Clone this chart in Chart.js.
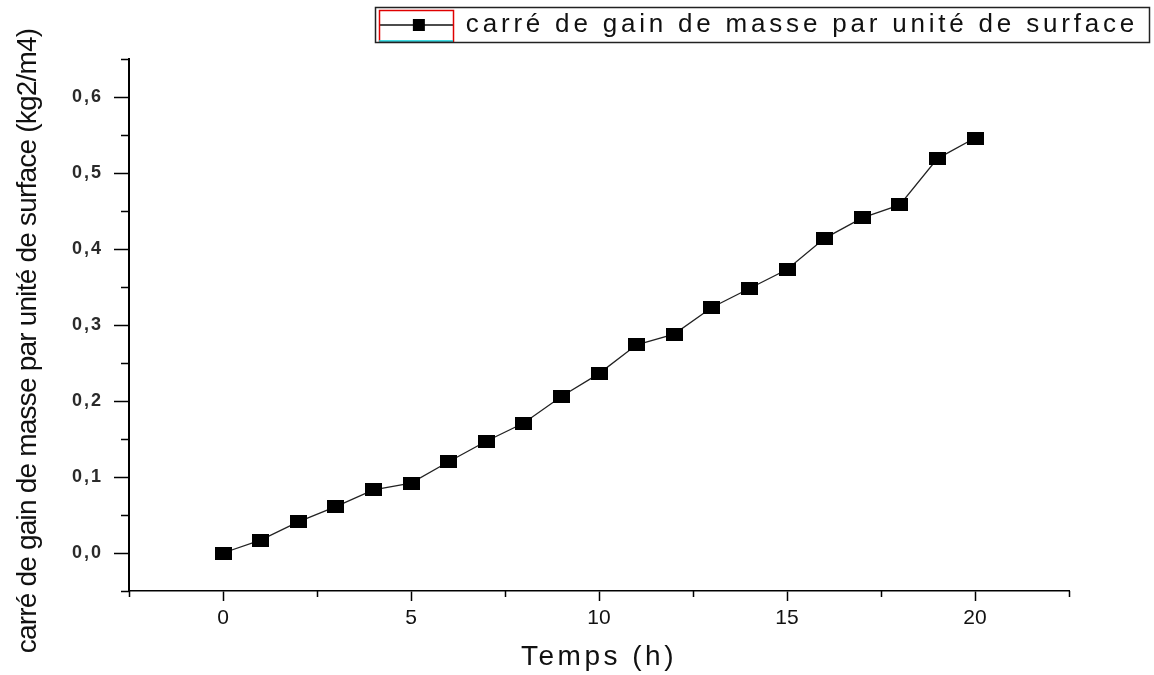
<!DOCTYPE html>
<html>
<head>
<meta charset="utf-8">
<title>carré de gain de masse par unité de surface</title>
<script src="https://cdn.jsdelivr.net/npm/chart.js@4.4.1/dist/chart.umd.min.js"></script>
<style>
  html, body { margin: 0; padding: 0; background: #ffffff; }
  canvas { display: block; }
</style>
</head>
<body>
<canvas id="chart" width="1154" height="675"></canvas>
<script>
// ---- data ----
const TIME_H = [0, 1, 2, 3, 4, 5, 6, 7, 8, 9, 10, 11, 12, 13, 14, 15, 16, 17, 18, 19, 20];
const GAIN_SQ = [0.000, 0.017, 0.041, 0.061, 0.083, 0.092, 0.120, 0.147, 0.171, 0.206, 0.236,
                 0.274, 0.288, 0.323, 0.348, 0.373, 0.414, 0.441, 0.458, 0.519, 0.546];

// ---- axes ----
const X_TICKS = [0, 5, 10, 15, 20];
const X_TICK_LABELS = ['0', '5', '10', '15', '20'];
const X_MINOR = [-2.5, 2.5, 7.5, 12.5, 17.5, 22.5];
const Y_TICKS = [0, 0.1, 0.2, 0.3, 0.4, 0.5, 0.6];
const Y_TICK_LABELS = ['0,0', '0,1', '0,2', '0,3', '0,4', '0,5', '0,6'];
const Y_MINOR = [-0.05, 0.05, 0.15, 0.25, 0.35, 0.45, 0.55, 0.65];

const SERIES_LABEL = 'carré de gain de masse par unité de surface';
const X_TITLE = 'Temps (h)';
const Y_TITLE = 'carré de gain de masse par unité de surface (kg2/m4)';

const FONT = "'Liberation Sans', Arial, sans-serif";
Chart.defaults.font.family = FONT;

// filled rectangle used as the point symbol
function makeRectSymbol(w, h) {
  const c = document.createElement('canvas');
  c.width = w; c.height = h;
  const g = c.getContext('2d');
  g.fillStyle = '#000';
  g.fillRect(0, 0, w, h);
  return c;
}
// line + symbol sample for the legend
function makeLegendSample(w, h, sq) {
  const c = document.createElement('canvas');
  c.width = w; c.height = h;
  const g = c.getContext('2d');
  g.strokeStyle = '#111';
  g.lineWidth = 1.3;
  g.beginPath();
  g.moveTo(0, h / 2);
  g.lineTo(w, h / 2);
  g.stroke();
  g.fillStyle = '#000';
  g.fillRect(Math.round((w - sq) / 2) + 3, Math.round((h - sq) / 2), sq, sq);
  return c;
}
const POINT_SYMBOL = makeRectSymbol(17, 13);
const LEGEND_SAMPLE = makeLegendSample(74, 14, 12);

// letter spacing per axis text
const TEXT_SPACING = {
  x: { ticks: '0px', title: '3.5px', titleShift: 0 },
  y: { ticks: '2px', title: '-0.8px', titleShift: 16 }
};
const LEGEND_SPACING = '3.8px';

class SpacedLinearScale extends Chart.LinearScale {
  drawLabels(area) {
    const ctx = this.ctx;
    const st = TEXT_SPACING[this.id];
    const prev = ctx.letterSpacing;
    if (st) ctx.letterSpacing = st.ticks;
    super.drawLabels(area);
    ctx.letterSpacing = prev;
  }
  drawTitle() {
    const ctx = this.ctx;
    const st = TEXT_SPACING[this.id];
    ctx.save();
    if (st) {
      ctx.letterSpacing = st.title;
      ctx.translate(0, st.titleShift);
    }
    super.drawTitle();
    ctx.restore();
  }
}
SpacedLinearScale.id = 'spacedLinear';
SpacedLinearScale.defaults = Chart.LinearScale.defaults;
Chart.register(SpacedLinearScale);

const legendSpacing = {
  id: 'legendSpacing',
  beforeLayout(chart) { chart.ctx.letterSpacing = LEGEND_SPACING; },
  beforeDraw(chart) { chart.ctx.letterSpacing = LEGEND_SPACING; }
};

// short minor ticks between the labelled ones
const minorTicks = {
  id: 'minorTicks',
  afterDraw(chart) {
    const { x, y } = chart.scales;
    const ctx = chart.ctx;
    ctx.save();
    ctx.strokeStyle = '#000';
    ctx.lineWidth = 1.5;
    ctx.beginPath();
    Y_MINOR.forEach(v => {
      const py = Math.round(y.getPixelForValue(v)) + 0.5;
      ctx.moveTo(y.right - 8, py);
      ctx.lineTo(y.right, py);
    });
    X_MINOR.forEach(v => {
      const px = Math.round(x.getPixelForValue(v)) + 0.5;
      ctx.moveTo(px, x.top);
      ctx.lineTo(px, x.top + 6);
    });
    ctx.stroke();
    ctx.restore();
  }
};

// frame around the legend entry
const legendFrame = {
  id: 'legendFrame',
  afterDraw(chart) {
    const lg = chart.legend;
    if (!lg || !lg.legendHitBoxes || !lg.legendHitBoxes.length) return;
    const hb = lg.legendHitBoxes[0];
    const bw = lg.options.labels.pointStyleWidth;
    const ctx = chart.ctx;
    const top = Math.round(hb.top - 5) + 0.5;
    const bot = Math.round(hb.top + hb.height + 4) + 0.5;
    const left = Math.round(hb.left - 4) + 0.5;
    const right = Math.round(lg.right) - 0.5;
    ctx.save();
    ctx.strokeStyle = '#e00000';
    ctx.lineWidth = 1.5;
    ctx.strokeRect(Math.round(hb.left) + 0.5, top + 3, bw, bot - top - 4);
    ctx.strokeStyle = '#00e5ee';
    ctx.beginPath();
    ctx.moveTo(Math.round(hb.left), bot - 1.5);
    ctx.lineTo(Math.round(hb.left) + bw, bot - 1.5);
    ctx.stroke();
    ctx.strokeStyle = '#222';
    ctx.lineWidth = 1.5;
    ctx.strokeRect(left, top, right - left, bot - top);
    ctx.restore();
  }
};

const points = TIME_H.map((t, i) => ({ x: t, y: GAIN_SQ[i] }));

new Chart(document.getElementById('chart'), {
  type: 'line',
  data: {
    datasets: [{
      label: SERIES_LABEL,
      data: points,
      xAxisID: 'x',
      yAxisID: 'y',
      borderColor: '#222',
      borderWidth: 1.3,
      backgroundColor: '#000',
      pointStyle: POINT_SYMBOL,
      pointRadius: 8,
      pointHoverRadius: 8,
      tension: 0,
      clip: false
    }]
  },
  options: {
    responsive: false,
    animation: false,
    events: [],
    layout: { padding: { top: 0, right: 4, bottom: 0, left: 0 } },
    plugins: {
      tooltip: { enabled: false },
      legend: {
        display: true,
        position: 'top',
        align: 'end',
        labels: {
          usePointStyle: true,
          pointStyleWidth: 74,
          padding: 12,
          color: '#111',
          font: { family: FONT, size: 26 },
          generateLabels(chart) {
            const items = Chart.defaults.plugins.legend.labels.generateLabels(chart);
            items.forEach(it => { it.pointStyle = LEGEND_SAMPLE; });
            return items;
          }
        }
      }
    },
    scales: {
      x: {
        type: 'spacedLinear',
        position: 'bottom',
        min: -2.5,
        max: 22.5,
        afterBuildTicks(s) { s.ticks = X_TICKS.map(v => ({ value: v })); },
        afterFit(s) { s.height = 84; },
        ticks: {
          callback: (v, i) => X_TICK_LABELS[i],
          font: { family: FONT, size: 21 },
          color: '#111',
          padding: 5,
          maxRotation: 0,
          autoSkip: false
        },
        grid: { display: true, drawOnChartArea: false, drawTicks: true, tickLength: 10, tickWidth: 1.5, tickColor: '#000' },
        border: { display: true, color: '#000', width: 1.5 },
        title: { display: true, text: X_TITLE, color: '#111', font: { family: FONT, size: 28 }, padding: { top: 0, bottom: 1 } }
      },
      y: {
        type: 'spacedLinear',
        position: 'left',
        min: -0.05,
        max: 0.65,
        afterBuildTicks(s) { s.ticks = Y_TICKS.map(v => ({ value: v })); },
        afterFit(s) { s.width = 129; },
        ticks: {
          callback: (v, i) => Y_TICK_LABELS[i],
          font: { family: FONT, size: 18, weight: 'bold' },
          color: '#2a2a2a',
          padding: 11,
          autoSkip: false
        },
        grid: { display: true, drawOnChartArea: false, drawTicks: true, tickLength: 15, tickWidth: 1.5, tickColor: '#000' },
        border: { display: true, color: '#000', width: 2 },
        title: { display: true, text: Y_TITLE, color: '#111', font: { family: FONT, size: 28 }, padding: { top: 11, bottom: 0 } }
      },
      yRight: {
        type: 'linear', position: 'right', display: true,
        afterFit(s) { s.width = 81; },
        ticks: { display: false }, grid: { display: false }, border: { display: false }
      },
      xTop: {
        type: 'linear', position: 'top', display: true,
        afterFit(s) { s.height = 11; },
        ticks: { display: false }, grid: { display: false }, border: { display: false }
      }
    }
  },
  plugins: [legendSpacing, minorTicks, legendFrame]
});
</script>
</body>
</html>
